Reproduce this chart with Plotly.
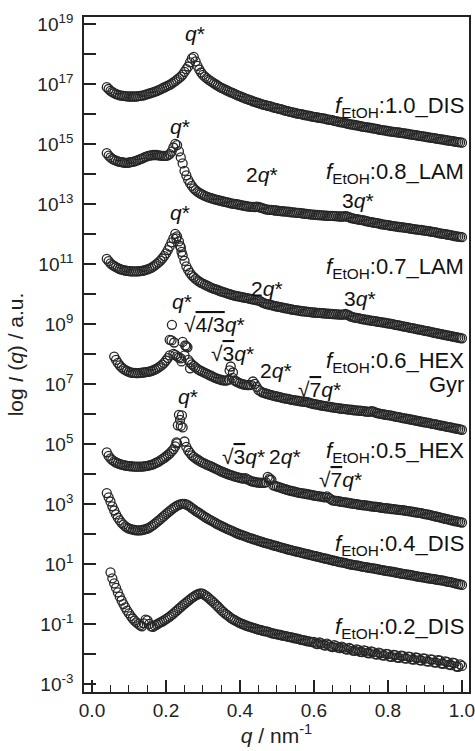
import plotly.graph_objects as go

# q grids (nm^-1): A = 0.04 .. 1.00, B = 0.045 .. 0.995 (both step 0.01)
QA = [round(0.04 + 0.01 * i, 3) for i in range(97)]
QB = [round(0.045 + 0.01 * i, 3) for i in range(96)]

# log10 I(q) (None = no data)
LOG_10_A = [16.89, 16.77, 16.69, 16.64, 16.61, 16.59, 16.58, 16.58, 16.58, 16.60,
            16.62, 16.66, 16.70, 16.74, 16.79, 16.85, 16.91, 16.97, 17.05, 17.14,
            17.24, 17.40, 17.58, 17.85, 17.75, 17.48, 17.30, 17.19, 17.10, 17.02,
            16.94, 16.87, 16.81, 16.75, 16.70, 16.64, 16.59, 16.54, 16.49, 16.45,
            16.40, 16.36, 16.32, 16.29, 16.26, 16.22, 16.19, 16.16, 16.12, 16.09,
            16.06, 16.03, 16.00, 15.98, 15.95, 15.93, 15.90, 15.88, 15.86, 15.84,
            15.81, 15.79, 15.76, 15.73, 15.71, 15.68, 15.65, 15.63, 15.61, 15.58,
            15.56, 15.54, 15.52, 15.50, 15.47, 15.45, 15.43, 15.41, 15.39, 15.38,
            15.36, 15.34, 15.32, 15.30, 15.28, 15.26, 15.24, 15.22, 15.20, 15.18,
            15.16, 15.14, 15.12, 15.10, 15.08, 15.06, 15.04]
LOG_10_B = [16.83, 16.73, 16.66, 16.62, 16.60, 16.585, 16.58, 16.58, 16.59, 16.61,
            16.64, 16.68, 16.72, 16.76, 16.82, 16.88, 16.94, 17.01, 17.09, 17.19,
            17.31, 17.49, 17.72, 17.90, 17.60, 17.38, 17.24, 17.14, 17.06, 16.98,
            16.90, 16.84, 16.78, 16.72, 16.67, 16.61, 16.56, 16.51, 16.47, 16.42,
            16.38, 16.34, 16.30, 16.27, 16.24, 16.20, 16.17, 16.14, 16.10, 16.07,
            16.04, 16.01, 15.99, 15.96, 15.94, 15.91, 15.89, 15.87, 15.85, 15.82,
            15.80, 15.77, 15.74, 15.72, 15.69, 15.66, 15.64, 15.62, 15.59, 15.57,
            15.55, 15.53, 15.51, 15.48, 15.46, 15.44, 15.42, 15.40, 15.385, 15.37,
            15.35, 15.33, 15.31, 15.29, 15.27, 15.25, 15.23, 15.21, 15.19, 15.17,
            15.15, 15.13, 15.11, 15.09, 15.07, 15.05]
LOG_08_A = [14.69, 14.55, 14.47, 14.42, 14.39, 14.37, 14.38, 14.40, 14.44, 14.49,
            14.54, 14.59, 14.62, 14.63, 14.62, 14.60, 14.60, 14.66, 14.88, 14.96,
            14.55, 14.10, 13.80, 13.60, 13.46, 13.37, 13.30, 13.24, 13.20, 13.16,
            13.13, 13.10, 13.07, 13.04, 13.01, 12.99, 12.97, 12.94, 12.92, 12.90,
            12.89, 12.90, 12.86, 12.82, 12.80, 12.79, 12.78, 12.76, 12.75, 12.74,
            12.72, 12.71, 12.70, 12.68, 12.67, 12.65, 12.64, 12.63, 12.62, 12.61,
            12.60, 12.60, 12.59, 12.58, 12.58, 12.58, 12.53, 12.50, 12.48, 12.46,
            12.43, 12.40, 12.38, 12.36, 12.33, 12.31, 12.29, 12.27, 12.25, 12.23,
            12.22, 12.20, 12.18, 12.16, 12.14, 12.13, 12.11, 12.09, 12.07, 12.05,
            12.02, 12.00, 11.98, 11.96, 11.93, 11.91, 11.89]
LOG_08_B = [14.61, 14.50, 14.44, 14.40, 14.38, 14.37, 14.39, 14.42, 14.46, 14.51,
            14.57, 14.61, 14.63, 14.63, 14.61, 14.60, 14.62, 14.74, 15.00, 14.75,
            14.35, 13.95, 13.69, 13.52, 13.41, 13.33, 13.27, 13.22, 13.18, 13.14,
            13.11, 13.08, 13.05, 13.02, 13.00, 12.98, 12.95, 12.93, 12.91, 12.90,
            12.91, 12.88, 12.84, 12.81, 12.80, 12.78, 12.77, 12.755, 12.745, 12.73,
            12.715, 12.70, 12.69, 12.675, 12.66, 12.645, 12.635, 12.625, 12.615, 12.605,
            12.60, 12.595, 12.585, 12.58, 12.59, 12.56, 12.52, 12.49, 12.47, 12.45,
            12.42, 12.39, 12.37, 12.35, 12.32, 12.30, 12.28, 12.26, 12.24, 12.225,
            12.21, 12.19, 12.17, 12.15, 12.135, 12.12, 12.10, 12.08, 12.06, 12.035,
            12.01, 11.99, 11.97, 11.945, 11.92, 11.90]
LOG_07_A = [11.17, 11.02, 10.93, 10.86, 10.81, 10.78, 10.76, 10.75, 10.75, 10.76,
            10.78, 10.82, 10.87, 10.95, 11.05, 11.18, 11.35, 11.58, 11.85, 11.92,
            11.55, 11.10, 10.80, 10.62, 10.50, 10.41, 10.34, 10.28, 10.22, 10.17,
            10.13, 10.08, 10.04, 10.00, 9.96, 9.93, 9.91, 9.88, 9.86, 9.83,
            9.80, 9.78, 9.72, 9.67, 9.64, 9.61, 9.58, 9.56, 9.53, 9.51,
            9.48, 9.46, 9.44, 9.42, 9.41, 9.39, 9.38, 9.37, 9.36, 9.35,
            9.34, 9.33, 9.32, 9.31, 9.31, 9.31, 9.24, 9.21, 9.19, 9.16,
            9.14, 9.12, 9.10, 9.08, 9.06, 9.04, 9.02, 9.00, 8.97, 8.95,
            8.92, 8.90, 8.87, 8.85, 8.82, 8.80, 8.77, 8.75, 8.72, 8.69,
            8.67, 8.64, 8.62, 8.59, 8.57, 8.54, 8.52]
LOG_07_B = [11.09, 10.97, 10.89, 10.83, 10.79, 10.77, 10.755, 10.75, 10.755, 10.77,
            10.80, 10.84, 10.91, 11.00, 11.11, 11.26, 11.46, 11.72, 12.00, 11.75,
            11.28, 10.92, 10.70, 10.56, 10.45, 10.37, 10.31, 10.25, 10.195, 10.15,
            10.10, 10.06, 10.02, 9.98, 9.945, 9.92, 9.895, 9.87, 9.845, 9.815,
            9.79, 9.76, 9.69, 9.655, 9.625, 9.595, 9.57, 9.545, 9.52, 9.495,
            9.47, 9.45, 9.43, 9.415, 9.40, 9.385, 9.375, 9.365, 9.355, 9.345,
            9.335, 9.325, 9.315, 9.31, 9.33, 9.28, 9.225, 9.20, 9.175, 9.15,
            9.13, 9.11, 9.09, 9.07, 9.05, 9.03, 9.01, 8.985, 8.96, 8.935,
            8.91, 8.885, 8.86, 8.835, 8.81, 8.785, 8.76, 8.735, 8.705, 8.68,
            8.655, 8.63, 8.605, 8.58, 8.555, 8.53]
LOG_06_A = [None, None, 7.91, 7.70, 7.55, 7.46, 7.40, 7.37, 7.36, 7.37,
            7.38, 7.40, 7.43, 7.48, 7.55, 7.64, 7.78, 7.95, 8.00, 7.92,
            7.85, 7.95, 7.80, 7.65, 7.55, 7.46, 7.40, 7.34, 7.28, 7.22,
            7.17, 7.13, 7.11, 7.14, 7.20, 7.08, 7.02, 6.98, 6.96, 6.97,
            7.00, 6.80, 6.72, 6.68, 6.64, 6.61, 6.58, 6.55, 6.52, 6.50,
            6.47, 6.45, 6.43, 6.41, 6.40, 6.36, 6.33, 6.31, 6.28, 6.26,
            6.24, 6.22, 6.20, 6.18, 6.17, 6.15, 6.14, 6.12, 6.11, 6.10,
            6.08, 6.07, 6.08, 6.03, 6.00, 5.98, 5.96, 5.94, 5.91, 5.89,
            5.86, 5.84, 5.82, 5.79, 5.77, 5.74, 5.72, 5.70, 5.67, 5.65,
            5.62, 5.60, 5.57, 5.55, 5.52, 5.50, 5.47]
LOG_06_B = [None, None, 7.80, 7.62, 7.50, 7.43, 7.38, 7.365, 7.36, 7.375,
            7.39, 7.41, 7.45, 7.51, 7.59, 7.70, 7.86, 8.45, 7.97, 7.88,
            8.40, 8.25, 7.72, 7.60, 7.50, 7.43, 7.37, 7.31, 7.25, 7.19,
            7.15, 7.12, 7.12, 7.58, 7.12, 7.05, 7.00, 6.97, 6.96, 7.08,
            6.90, 6.76, 6.70, 6.66, 6.625, 6.595, 6.565, 6.535, 6.51, 6.485,
            6.46, 6.44, 6.42, 6.40, 6.38, 6.345, 6.32, 6.295, 6.27, 6.25,
            6.23, 6.21, 6.19, 6.175, 6.16, 6.145, 6.13, 6.115, 6.105, 6.09,
            6.075, 6.09, 6.05, 6.015, 5.99, 5.97, 5.95, 5.925, 5.90, 5.875,
            5.85, 5.83, 5.805, 5.78, 5.755, 5.73, 5.71, 5.685, 5.66, 5.635,
            5.61, 5.585, 5.56, 5.535, 5.51, 5.485]
LOG_05_A = [4.72, 4.52, 4.42, 4.35, 4.31, 4.28, 4.26, 4.25, 4.24, 4.24,
            4.25, 4.27, 4.30, 4.35, 4.41, 4.49, 4.58, 4.68, 4.82, 5.02,
            5.60, 5.08, 4.78, 4.62, 4.52, 4.44, 4.37, 4.31, 4.26, 4.20,
            4.14, 4.08, 4.03, 3.98, 3.94, 3.90, 3.87, 3.84, 3.82, 3.76,
            3.73, 3.71, 3.70, 3.72, 3.85, 3.62, 3.58, 3.54, 3.50, 3.46,
            3.43, 3.40, 3.37, 3.35, 3.33, 3.31, 3.28, 3.26, 3.24, 3.22,
            3.20, 3.12, 3.10, 3.08, 3.06, 3.04, 3.02, 3.00, 2.98, 2.96,
            2.95, 2.93, 2.91, 2.90, 2.88, 2.86, 2.85, 2.83, 2.82, 2.80,
            2.79, 2.77, 2.75, 2.73, 2.71, 2.69, 2.66, 2.64, 2.61, 2.58,
            2.55, 2.52, 2.49, 2.46, 2.43, 2.41, 2.38]
LOG_05_B = [4.60, 4.46, 4.38, 4.33, 4.295, 4.27, 4.255, 4.245, 4.24, 4.245,
            4.26, 4.285, 4.32, 4.38, 4.45, 4.53, 4.63, 4.75, 4.92, 5.97,
            5.55, 4.90, 4.70, 4.57, 4.48, 4.40, 4.34, 4.285, 4.23, 4.17,
            4.11, 4.055, 4.005, 3.96, 3.92, 3.885, 3.855, 3.86, 3.79, 3.745,
            3.72, 3.705, 3.70, 3.90, 3.80, 3.60, 3.56, 3.52, 3.48, 3.445,
            3.415, 3.385, 3.36, 3.34, 3.32, 3.295, 3.27, 3.25, 3.23, 3.25,
            3.16, 3.11, 3.09, 3.07, 3.05, 3.03, 3.01, 2.99, 2.97, 2.955,
            2.94, 2.92, 2.905, 2.89, 2.87, 2.855, 2.84, 2.825, 2.81, 2.795,
            2.78, 2.76, 2.74, 2.72, 2.70, 2.675, 2.65, 2.625, 2.595, 2.565,
            2.535, 2.505, 2.475, 2.445, 2.42, 2.395]
LOG_04_A = [3.36, 3.08, 2.78, 2.54, 2.37, 2.25, 2.18, 2.14, 2.12, 2.12,
            2.14, 2.18, 2.25, 2.34, 2.44, 2.55, 2.66, 2.76, 2.86, 2.94,
            2.99, 3.00, 2.95, 2.86, 2.77, 2.69, 2.61, 2.53, 2.46, 2.39,
            2.32, 2.26, 2.20, 2.14, 2.09, 2.03, 1.98, 1.94, 1.89, 1.85,
            1.81, 1.77, 1.73, 1.69, 1.66, 1.62, 1.59, 1.55, 1.52, 1.48,
            1.45, 1.42, 1.39, 1.36, 1.33, 1.30, 1.27, 1.24, 1.21, 1.18,
            1.15, 1.12, 1.09, 1.06, 1.04, 1.01, 0.98, 0.96, 0.94, 0.91,
            0.89, 0.87, 0.85, 0.83, 0.80, 0.78, 0.76, 0.74, 0.72, 0.69,
            0.67, 0.65, 0.63, 0.61, 0.58, 0.56, 0.54, 0.52, 0.50, 0.48,
            0.46, 0.44, 0.41, 0.39, 0.36, 0.33, 0.30]
LOG_04_B = [3.22, 2.92, 2.65, 2.45, 2.31, 2.21, 2.16, 2.13, 2.12, 2.13,
            2.16, 2.21, 2.29, 2.39, 2.49, 2.60, 2.71, 2.81, 2.90, 2.97,
            3.00, 2.98, 2.91, 2.82, 2.73, 2.65, 2.57, 2.495, 2.425, 2.355,
            2.29, 2.23, 2.17, 2.115, 2.06, 2.005, 1.96, 1.915, 1.87, 1.83,
            1.79, 1.75, 1.71, 1.675, 1.64, 1.605, 1.57, 1.535, 1.50, 1.465,
            1.435, 1.405, 1.375, 1.345, 1.315, 1.285, 1.255, 1.225, 1.195, 1.165,
            1.135, 1.105, 1.075, 1.05, 1.025, 0.995, 0.97, 0.95, 0.925, 0.90,
            0.88, 0.86, 0.84, 0.815, 0.79, 0.77, 0.75, 0.73, 0.705, 0.68,
            0.66, 0.64, 0.62, 0.595, 0.57, 0.55, 0.53, 0.51, 0.49, 0.47,
            0.45, 0.425, 0.40, 0.375, 0.345, 0.315]
LOG_02_A = [None, 0.72, 0.35, 0.05, -0.22, -0.45, -0.65, -0.82, -0.95, -1.05,
            -0.98, -0.88, -1.08, -1.06, -0.98, -0.92, -0.84, -0.76, -0.66, -0.55,
            -0.44, -0.33, -0.23, -0.13, -0.05, 0.01, 0.00, -0.08, -0.19, -0.30,
            -0.42, -0.55, -0.66, -0.75, -0.84, -0.91, -0.97, -1.02, -1.07, -1.11,
            -1.15, -1.19, -1.22, -1.25, -1.28, -1.32, -1.35, -1.37, -1.40, -1.43,
            -1.45, -1.48, -1.51, -1.54, -1.57, -1.59, -1.60, -1.67, -1.65, -1.72,
            -1.70, -1.77, -1.74, -1.81, -1.79, -1.86, -1.83, -1.90, -1.87, -1.94,
            -1.90, -1.98, -1.94, -2.02, -1.98, -2.06, -2.01, -2.10, -2.04, -2.13,
            -2.07, -2.16, -2.10, -2.19, -2.13, -2.22, -2.16, -2.26, -2.19, -2.29,
            -2.22, -2.33, -2.27, -2.37, -2.31, -2.43, -2.40]
LOG_02_B = [None, 0.52, 0.20, -0.09, -0.34, -0.56, -0.74, -0.89, -1.00, -1.08,
            -0.86, -1.00, -1.10, -1.02, -0.95, -0.88, -0.80, -0.71, -0.60, -0.49,
            -0.38, -0.28, -0.18, -0.09, -0.02, 0.02, -0.04, -0.13, -0.24, -0.36,
            -0.48, -0.60, -0.70, -0.80, -0.87, -0.94, -1.00, -1.05, -1.09, -1.13,
            -1.17, -1.20, -1.24, -1.26, -1.31, -1.33, -1.36, -1.39, -1.41, -1.44,
            -1.47, -1.49, -1.53, -1.55, -1.58, -1.61, -1.66, -1.62, -1.70, -1.66,
            -1.75, -1.71, -1.79, -1.76, -1.84, -1.80, -1.89, -1.85, -1.93, -1.88,
            -1.97, -1.92, -2.01, -1.96, -2.05, -2.00, -2.09, -2.03, -2.12, -2.06,
            -2.15, -2.09, -2.18, -2.12, -2.21, -2.15, -2.25, -2.18, -2.28, -2.21,
            -2.32, -2.25, -2.36, -2.29, -2.42, -2.35]

# extra scattered points around Bragg peaks
PK07_Q = [0.228, 0.238, 0.242]
PK07_L = [11.85, 11.60, 11.40]
PK06_Q = [0.216, 0.210, 0.222, 0.242, 0.252, 0.258, 0.265, 0.372, 0.381]
PK06_L = [8.97, 8.47, 8.38, 7.75, 8.28, 8.22, 7.52, 7.45, 7.38]
PK05_Q = [0.238, 0.232, 0.243, 0.228, 0.480]
PK05_L = [5.80, 5.62, 5.95, 5.05, 3.80]

SERIES = [(LOG_10_A, LOG_10_B), (LOG_08_A, LOG_08_B), (LOG_07_A, LOG_07_B),
          (LOG_06_A, LOG_06_B), (LOG_05_A, LOG_05_B), (LOG_04_A, LOG_04_B),
          (LOG_02_A, LOG_02_B)]
PEAKS = [(PK07_Q, PK07_L), (PK06_Q, PK06_L), (PK05_Q, PK05_L)]

MCOL = "#262626"
marker = dict(symbol="circle-open", size=9, color=MCOL, line=dict(width=1.3, color=MCOL))

fig = go.Figure()
for la, lb in SERIES:
    xs, ys = [], []
    for qa, va, qb, vb in zip(QA, la, QB + [None], lb + [None]):
        if va is not None:
            xs.append(qa)
            ys.append(10 ** va)
        if qb is not None and vb is not None:
            xs.append(qb)
            ys.append(10 ** vb)
    fig.add_trace(go.Scatter(x=xs, y=ys, mode="markers", marker=marker, showlegend=False))
for pq, pl in PEAKS:
    fig.add_trace(go.Scatter(x=pq, y=[10 ** v for v in pl], mode="markers",
                             marker=marker, showlegend=False))

FONT = "Arial, 'Liberation Sans', sans-serif"
LBL = 22

QS = "<i>q</i>*"
SQ = "\u221a"
OV = "<span style='text-decoration:overline'>{}</span>"
NOTES = [
    (0.278, 18.69, QS),
    (0.238, 15.58, QS),
    (0.238, 12.70, QS),
    (0.459, 13.97, "2" + QS),
    (0.720, 13.13, "3" + QS),
    (0.472, 10.19, "2" + QS),
    (0.724, 9.86, "3" + QS),
    (0.242, 9.74, QS),
    (0.332, 8.97, SQ + OV.format("4/3") + QS),
    (0.381, 8.02, SQ + OV.format("3") + QS),
    (0.496, 7.45, "2" + QS),
    (0.616, 6.80, SQ + OV.format("7") + QS),
    (0.260, 6.58, QS),
    (0.409, 4.58, SQ + OV.format("3") + QS),
    (0.523, 4.58, "2" + QS),
    (0.672, 3.80, SQ + OV.format("7") + QS),
]
LABELS = [
    (16.24, "1.0_DIS"), (14.02, "0.8_LAM"), (10.86, "0.7_LAM"), (7.74, "0.6_HEX"),
    (4.72, "0.5_HEX"), (1.63, "0.4_DIS"), (-1.14, "0.2_DIS"),
]
for q, ly, txt in NOTES:
    fig.add_annotation(x=q, y=ly, xref="x", yref="y", text=txt, showarrow=False,
                       xanchor="center", yanchor="middle",
                       font=dict(family=FONT, size=21, color="#111"))
for ly, tag in LABELS:
    fig.add_annotation(x=1.012, y=ly, xref="x", yref="y",
                       text="<i>f</i><sub>EtOH</sub>:" + tag, showarrow=False,
                       xanchor="right", yanchor="middle",
                       font=dict(family=FONT, size=LBL, color="#111"))
fig.add_annotation(x=1.012, y=6.97, xref="x", yref="y", text="Gyr", showarrow=False,
                   xanchor="right", yanchor="middle",
                   font=dict(family=FONT, size=LBL, color="#111"))

YEXP = list(range(-3, 20))
fig.update_yaxes(
    type="log", range=[-3.27, 19.23],
    tickmode="array", tickvals=[10 ** e for e in YEXP],
    ticktext=[f"10<sup>{e}</sup>" if e % 2 else "" for e in YEXP],
    ticks="inside", ticklen=12, tickwidth=1.5, tickcolor="#222",
    ticklabelstandoff=5,
    showline=True, linewidth=1.8, linecolor="#222", mirror=True,
    showgrid=False, zeroline=False,
    tickfont=dict(family=FONT, size=19, color="#222"),
    title=dict(text="log <i>I</i> (<i>q</i>) / a.u.", standoff=8,
               font=dict(family=FONT, size=21, color="#222")),
)
fig.update_xaxes(
    range=[-0.0216, 1.019],
    tickmode="array", tickvals=[0, 0.2, 0.4, 0.6, 0.8, 1.0],
    ticktext=["0.0", "0.2", "0.4", "0.6", "0.8", "1.0"],
    ticks="inside", ticklen=12, tickwidth=1.5, tickcolor="#222",
    ticklabeloverflow="allow",
    minor=dict(dtick=0.05, tick0=0, ticks="inside", ticklen=7, tickwidth=1.2, tickcolor="#222"),
    showline=True, linewidth=1.8, linecolor="#222", mirror=True,
    showgrid=False, zeroline=False,
    tickfont=dict(family=FONT, size=19, color="#222"),
    title=dict(text="<i>q</i> / nm<sup>-1</sup>", standoff=4,
               font=dict(family=FONT, size=21, color="#222")),
)
fig.update_layout(
    width=475, height=751,
    margin=dict(l=84, r=6, t=17, b=59, autoexpand=False),
    plot_bgcolor="white", paper_bgcolor="white",
)
fig.write_html("out.html", config={"displayModeBar": False},
               post_script="document.body.style.margin='0';document.body.style.overflow='hidden';")
